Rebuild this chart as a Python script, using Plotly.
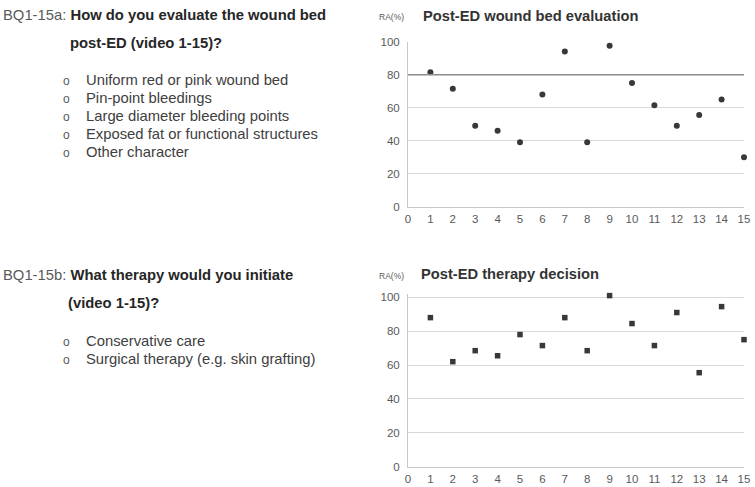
import plotly.graph_objects as go

videos = list(range(1, 16))
wound_bed_ra = [81.5, 71.5, 49, 46, 39, 68, 94, 39, 97.5, 75, 61.5, 49, 55.5, 65, 30]
therapy_ra = [88, 62, 68.5, 65.5, 78, 71.5, 88, 68.5, 101, 84.5, 71.5, 91, 55.5, 94.5, 75]
threshold = 80
y_ticks = [0, 20, 40, 60, 80, 100]
x_ticks = list(range(0, 16))

W, H = 755, 487
FONT = "Liberation Sans, Arial, sans-serif"
DARK = "#262626"
GRAY = "#595959"

fig = go.Figure()

fig.add_trace(go.Scatter(x=videos, y=wound_bed_ra, mode="markers",
                         marker=dict(symbol="circle", size=6, color="#383838"),
                         cliponaxis=False, xaxis="x", yaxis="y", showlegend=False))
fig.add_trace(go.Scatter(x=videos, y=therapy_ra, mode="markers",
                         marker=dict(symbol="square", size=5.5, color="#383838"),
                         cliponaxis=False, xaxis="x2", yaxis="y2", showlegend=False))

def px_x(p):
    return p / W

def px_y(p):
    return 1 - p / H

axis_common = dict(gridcolor="#d9d9d9", gridwidth=1, zeroline=False, automargin=False,
                   showline=True, linecolor="#c8c8c8", linewidth=1,
                   tickfont=dict(family=FONT, size=11.5, color=GRAY), ticks="", fixedrange=True)

# bottom chart: 0 at 466.7px, 100 at 297.3px; range extended slightly so the 101 point shows
b0, b100 = 466.7, 297.3
b_top = b0 - (b0 - b100) * 1.02

fig.update_layout(
    template="none",
    width=W, height=H, margin=dict(l=0, r=0, t=0, b=0, pad=0), autosize=False,
    paper_bgcolor="white", plot_bgcolor="white",
    xaxis=dict(domain=[px_x(408), px_x(744)], range=[0, 15], tickvals=x_ticks,
               anchor="y", showgrid=False, ticklabelstandoff=1, **axis_common),
    yaxis=dict(domain=[px_y(206.7), px_y(41.7)], range=[0, 100], tickvals=y_ticks,
               anchor="x", showgrid=True, ticklabelstandoff=5, **axis_common),
    xaxis2=dict(domain=[px_x(408), px_x(744)], range=[0, 15], tickvals=x_ticks,
                anchor="y2", showgrid=False, ticklabelstandoff=1, **axis_common),
    yaxis2=dict(domain=[px_y(b0), px_y(b_top)], range=[0, 102], tickvals=y_ticks,
                anchor="x2", showgrid=True, ticklabelstandoff=5, **axis_common),
)

fig.add_shape(type="line", xref="x domain", yref="y", x0=0, x1=1, y0=threshold, y1=threshold,
              line=dict(color="#8c8c8c", width=1.5))

def txt(x, y, text, size=14.8, color=DARK, anchor="left"):
    fig.add_annotation(x=px_x(x), y=px_y(y), xref="paper", yref="paper", text=text,
                       showarrow=False, xanchor=anchor, yanchor="middle", borderpad=0,
                       font=dict(family=FONT, size=size, color=color))

txt(378, 17, "RA(%)", size=8.5, color=GRAY)
txt(422, 16, "<b>Post-ED wound bed evaluation</b>", size=14.7, color="#333333")
txt(378, 276, "RA(%)", size=8.5, color=GRAY)
txt(420, 274, "<b>Post-ED therapy decision</b>", size=14.7, color="#333333")

txt(2, 15, "<span style='color:#595959'>BQ1-15a:</span> <b>How do you evaluate the wound bed</b>")
txt(69, 43, "<b>post-ED (video 1-15)?</b>")
opts_a = ["Uniform red or pink wound bed", "Pin-point bleedings", "Large diameter bleeding points",
          "Exposed fat or functional structures", "Other character"]
for i, o in enumerate(opts_a):
    yy = 80 + i * 18
    txt(62, yy + 1, "o", size=12, color=GRAY)
    txt(85, yy, o, color="#404040")

txt(2, 275, "<span style='color:#595959'>BQ1-15b:</span> <b>What therapy would you initiate</b>")
txt(67, 303, "<b>(video 1-15)?</b>")
opts_b = ["Conservative care", "Surgical therapy (e.g. skin grafting)"]
for i, o in enumerate(opts_b):
    yy = 341 + i * 18
    txt(62, yy + 1, "o", size=12, color=GRAY)
    txt(85, yy, o, color="#404040")

fig.write_html("out.html", config={"displayModeBar": False},
               post_script="document.body.style.margin='0';")
